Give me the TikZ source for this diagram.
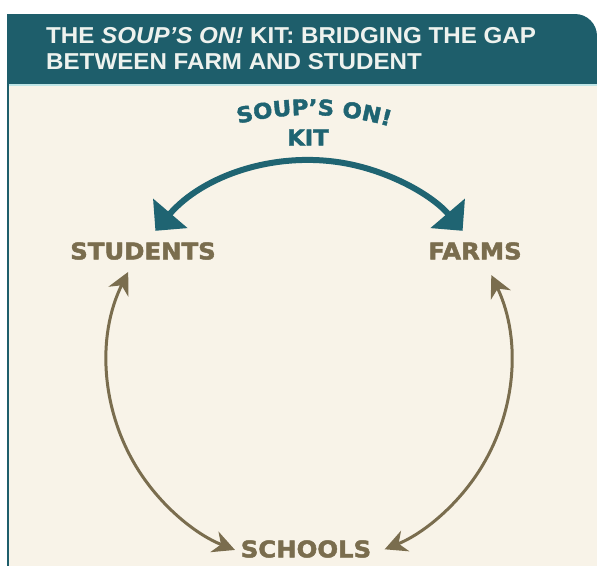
\documentclass[tikz,border=0pt]{standalone}
\usepackage{fontspec}
\setmainfont{Liberation Sans}
\newfontfamily\hdfont[FakeStretch=1.05]{Liberation Sans}
\newfontface\blackface[FakeBold=2,FakeStretch=1.06]{DejaVu Sans Bold}
\usetikzlibrary{arrows.meta,decorations.text}
\definecolor{cream}{HTML}{F8F3E8}
\definecolor{hdteal}{HTML}{1E5E6B}
\definecolor{arcteal}{HTML}{1F6472}
\definecolor{olive}{HTML}{7A6D4E}
\definecolor{hdtext}{HTML}{EEF2EE}
\definecolor{cyanline}{HTML}{BFE5E6}
\tikzset{
  lab/.style={font=\blackface\fontsize{23}{23}\selectfont, text=olive, inner sep=0pt},
  kitlab/.style={font=\blackface\fontsize{21.5}{21.5}\selectfont, text=arcteal, inner sep=0pt},
  hdline/.style={font=\hdfont\bfseries\fontsize{23}{23}\selectfont, text=hdtext, inner sep=0pt, anchor=base west},
  brownarrow/.style={draw=olive, line width=3pt, {Stealth[length=22pt,width=22pt,inset=7pt]}-{Stealth[length=22pt,width=22pt,inset=7pt]}},
  tealarrow/.style={draw=arcteal, line width=6pt, {Triangle[length=23pt,width=44pt]}-{Triangle[length=23pt,width=44pt]}}
}
\begin{document}
\begin{tikzpicture}[x=1pt,y=1pt]
\useasboundingbox (0,0) rectangle (597,-566);
% background
\fill[white] (0,0) rectangle (597,-566);
\fill[cream] (7,-84) rectangle (597,-566);
\fill[hdteal] (7,-84) -- (7,-14) -- (575,-14) arc[start angle=90,end angle=0,radius=22] -- (597,-84) -- cycle;
\draw[cyanline, line width=1.5pt] (9,-85) -- (597,-85);
\draw[hdteal, line width=2pt] (8,-84) -- (8,-566);
% header text
\node[hdline] (h1) at (46,-43) {THE \textit{SOUP’S ON!} KIT: BRIDGING THE GAP};
\node[hdline] (h2) at (46,-69) {BETWEEN FARM AND STUDENT};
% labels
\node[lab] (students) at (143,-251) {STUDENTS};
\node[lab] (farms) at (475,-251) {FARMS};
\node[lab] (schools) at (306,-549) {SCHOOLS};
\node[kitlab] (kit) at (308,-137.5) {KIT};
% curved kit text
\path[decorate, decoration={text along path, text align=center,
  text={|\blackface\fontsize{21.5}{21.5}\selectfont\color{arcteal}|SOUP’S ON!}}]
  (309,-405) ++(108:290) arc[start angle=108,end angle=70,radius=290];
% arcs on a common circle
\coordinate (c) at (309,-362);
\draw[tealarrow] (c) ++(139.5:202) arc[start angle=139.5,end angle=40.5,radius=202];
\draw[brownarrow] (c) ++(153.5:202) arc[start angle=153.5,end angle=248.5,radius=202];
\draw[brownarrow] (c) ++(25.5:202) arc[start angle=25.5,end angle=-68,radius=202];
\end{tikzpicture}
\end{document}
